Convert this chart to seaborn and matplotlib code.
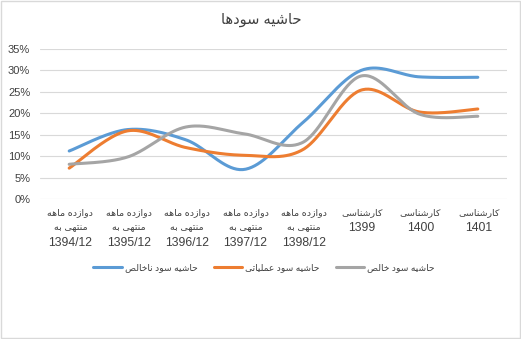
import numpy as np
import pandas as pd
import matplotlib
matplotlib.use("Agg")
import matplotlib.pyplot as plt
from matplotlib.patches import Rectangle
from matplotlib.ticker import PercentFormatter
from matplotlib.transforms import blended_transform_factory
import seaborn as sns

# ---- data ----
title = "حاشیه سودها"
categories = [
    "دوازده ماهه\nمنتهی به\n1394/12",
    "دوازده ماهه\nمنتهی به\n1395/12",
    "دوازده ماهه\nمنتهی به\n1396/12",
    "دوازده ماهه\nمنتهی به\n1397/12",
    "دوازده ماهه\nمنتهی به\n1398/12",
    "کارشناسی\n1399",
    "کارشناسی\n1400",
    "کارشناسی\n1401",
]
series_names = ["حاشیه سود ناخالص", "حاشیه سود عملیاتی", "حاشیه سود خالص"]
gross_margin = [11.2, 16.2, 13.8, 6.9, 17.8, 30.0, 28.5, 28.4]
operating_margin = [7.2, 15.9, 12.0, 10.2, 11.5, 25.4, 20.3, 21.0]
net_margin = [8.1, 9.8, 16.8, 15.2, 13.2, 28.7, 19.8, 19.3]
colors = ["#5B9BD5", "#ED7D31", "#A5A5A5"]
y_ticks = [0, 5, 10, 15, 20, 25, 30, 35]

# ---- minimal Persian shaping (presentation forms + right-to-left order) ----
FORMS = {  # isolated, final, initial, medial
    "ا": ("\uFE8D", "\uFE8E", None, None),
    "ب": ("\uFE8F", "\uFE90", "\uFE91", "\uFE92"),
    "ت": ("\uFE95", "\uFE96", "\uFE97", "\uFE98"),
    "ح": ("\uFEA1", "\uFEA2", "\uFEA3", "\uFEA4"),
    "خ": ("\uFEA5", "\uFEA6", "\uFEA7", "\uFEA8"),
    "د": ("\uFEA9", "\uFEAA", None, None),
    "ر": ("\uFEAD", "\uFEAE", None, None),
    "ز": ("\uFEAF", "\uFEB0", None, None),
    "س": ("\uFEB1", "\uFEB2", "\uFEB3", "\uFEB4"),
    "ش": ("\uFEB5", "\uFEB6", "\uFEB7", "\uFEB8"),
    "ص": ("\uFEB9", "\uFEBA", "\uFEBB", "\uFEBC"),
    "ع": ("\uFEC9", "\uFECA", "\uFECB", "\uFECC"),
    "ل": ("\uFEDD", "\uFEDE", "\uFEDF", "\uFEE0"),
    "م": ("\uFEE1", "\uFEE2", "\uFEE3", "\uFEE4"),
    "ن": ("\uFEE5", "\uFEE6", "\uFEE7", "\uFEE8"),
    "ه": ("\uFEE9", "\uFEEA", "\uFEEB", "\uFEEC"),
    "و": ("\uFEED", "\uFEEE", None, None),
    "ی": ("\uFBFC", "\uFBFD", "\uFBFE", "\uFBFF"),
    "ک": ("\uFB8E", "\uFB8F", "\uFB90", "\uFB91"),
}


def is_persian(line):
    return any(c in FORMS for c in line)


def shape_line(line):
    if not is_persian(line):
        return line
    out = []
    for i, c in enumerate(line):
        if c not in FORMS:
            out.append(c)
            continue
        prev = line[i - 1] if i > 0 else ""
        nxt = line[i + 1] if i + 1 < len(line) else ""
        joins_prev = prev in FORMS and FORMS[prev][2] is not None
        joins_next = FORMS[c][2] is not None and nxt in FORMS
        iso, fin, ini, med = FORMS[c]
        if joins_prev and joins_next:
            out.append(med)
        elif joins_prev:
            out.append(fin)
        elif joins_next:
            out.append(ini)
        else:
            out.append(iso)
    return "".join(reversed(out))


def fa(text):
    return "\n".join(shape_line(l) for l in text.split("\n"))


# ---- smoothed line (Bezier through each point, like spreadsheet smoothing) ----
def smooth(xs, ys, n=40):
    p = np.column_stack([xs, ys]).astype(float)
    pts = []
    for i in range(len(p) - 1):
        p0 = p[max(i - 1, 0)]
        p1, p2 = p[i], p[i + 1]
        p3 = p[min(i + 2, len(p) - 1)]
        c1 = p1 + (p2 - p0) / 6.0
        c2 = p2 - (p3 - p1) / 6.0
        t = np.linspace(0, 1, n)[:, None]
        seg = ((1 - t) ** 3) * p1 + 3 * ((1 - t) ** 2) * t * c1 + 3 * (1 - t) * t ** 2 * c2 + t ** 3 * p2
        pts.append(seg if i == 0 else seg[1:])
    return np.vstack(pts)


sns.set_theme(style="white")
plt.rcParams["font.family"] = ["Liberation Sans", "DejaVu Sans"]

W, H = 521, 339
fig = plt.figure(figsize=(W / 100, H / 100), dpi=100)
ax = fig.add_axes([40 / W, 1 - 199 / H, 467 / W, 150 / H])

x = np.arange(len(categories))
for name, vals, col in zip(series_names, [gross_margin, operating_margin, net_margin], colors):
    curve = smooth(x, vals)
    df = pd.DataFrame({"x": curve[:, 0], "y": curve[:, 1]})
    sns.lineplot(data=df, x="x", y="y", ax=ax, color=col, linewidth=2.2,
                 sort=False, estimator=None, label=fa(name))

ax.set_xlim(-0.5, len(categories) - 0.5)
ax.set_ylim(0, 35)
ax.set_yticks(y_ticks)
ax.yaxis.set_major_formatter(PercentFormatter(decimals=0))
ax.set_xticks(x)
ax.set_xticklabels([])
ax.tick_params(axis="y", labelsize=8, colors="#404040", length=0, pad=7)
ax.tick_params(axis="x", length=0)
ax.set_xlabel("")
ax.set_ylabel("")
ax.grid(axis="y", color="#D9D9D9", linewidth=0.8)
ax.set_axisbelow(True)
for s in ax.spines.values():
    s.set_visible(False)

# category labels: one text per line so the Persian lines and the dates get their own sizes
line_y = [213, 228, 243]
trans = blended_transform_factory(ax.transData, fig.transFigure)
for xi, cat in zip(x, categories):
    for j, line in enumerate(cat.split("\n")):
        persian = is_persian(line)
        ax.text(xi + 0.02, 1 - line_y[j] / H, shape_line(line), transform=trans,
                ha="center", va="center", color="#404040",
                fontsize=6.8 if persian else 8.8)

ax.legend_.remove()
handles, labels = ax.get_legend_handles_labels()
fig.legend(handles, labels, loc="center", bbox_to_anchor=(264 / W, 1 - 268 / H),
           ncol=3, frameon=False, fontsize=6.6, handlelength=3.1,
           columnspacing=1.8, handletextpad=0.3, labelcolor="#404040")

fig.text(261 / W, 1 - 20 / H, fa(title), ha="center", va="center",
         fontsize=10.5, color="#404040")

fig.patches.append(Rectangle((0.002, 0.003), 0.996, 0.994, transform=fig.transFigure,
                             fill=False, edgecolor="#D9D9D9", linewidth=1))

fig.savefig("out.png", dpi=100)
